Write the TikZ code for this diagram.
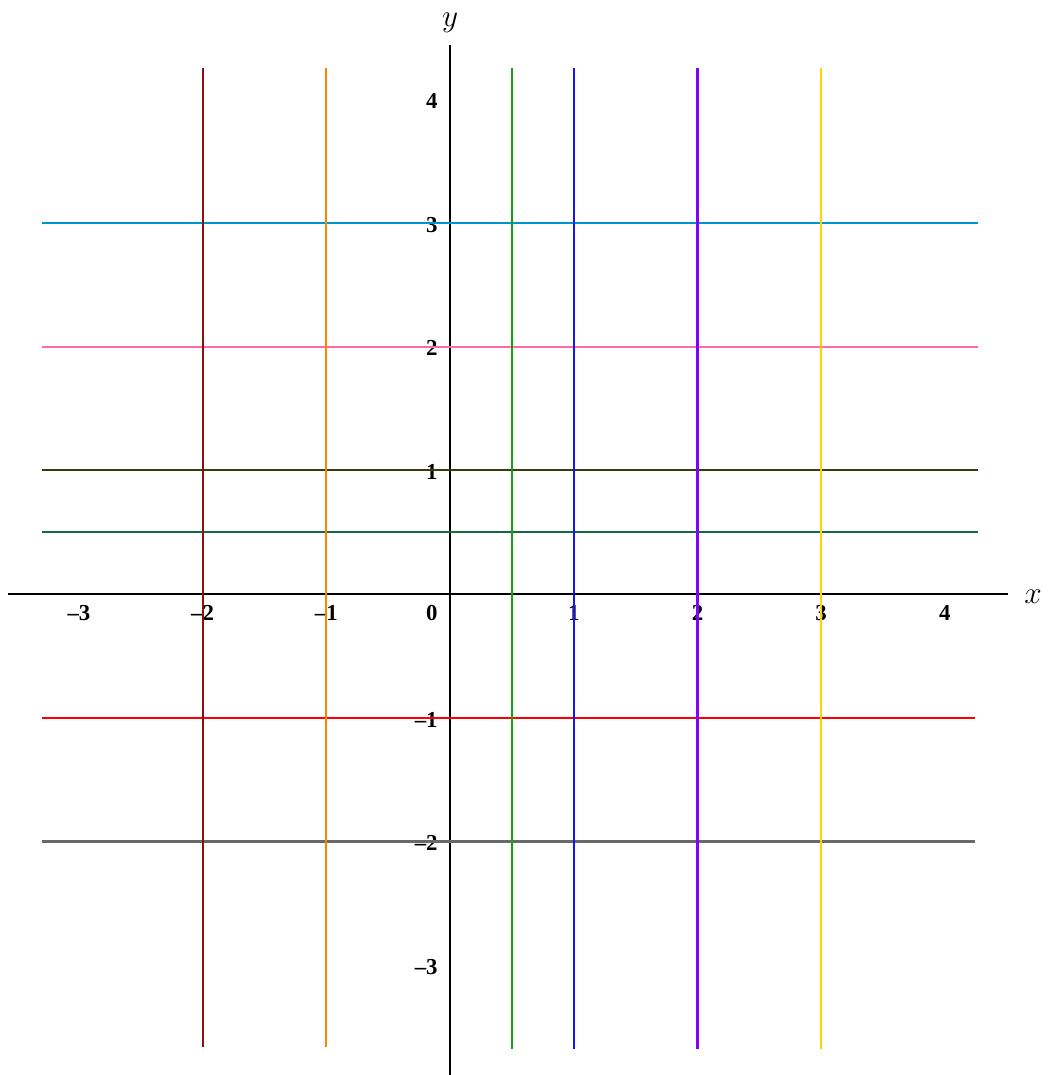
\documentclass[tikz,border=0pt]{standalone}
\usepackage{fontspec}
\setmainfont{Liberation Serif}
\definecolor{lineMaroon}{RGB}{140,16,16}
\definecolor{lineOrange}{RGB}{255,130,0}
\definecolor{lineGreen}{RGB}{20,160,20}
\definecolor{lineBlue}{RGB}{20,20,255}
\definecolor{lineViolet}{RGB}{130,0,255}
\definecolor{lineGold}{RGB}{255,210,0}
\definecolor{lineCyan}{RGB}{0,150,205}
\definecolor{linePink}{RGB}{255,105,170}
\definecolor{lineOlive}{RGB}{60,60,10}
\definecolor{lineTeal}{RGB}{20,105,65}
\definecolor{lineRed}{RGB}{255,0,0}
\definecolor{lineGray}{RGB}{105,105,105}
\tikzset{
  axisline/.style={black, line width=1.2pt},
  gridline/.style={line width=1.0pt},
  ticklbl/.style={font=\fontsize{10.5}{12}\selectfont\bfseries, inner sep=0pt}
}
\begin{document}
\begin{tikzpicture}[x=2cm,y=2cm]
  \useasboundingbox (-3.638,-3.888) rectangle (4.834,4.802);

  % Axes
  \draw[axisline] (-3.57,0) -- (4.51,0);
  \draw[axisline] (0,-3.888) -- (0,4.438);
  \node[anchor=base, inner sep=0pt] (xname) at (4.713,-0.073) {\Large $x$};
  \node[anchor=base, inner sep=0pt] (yname) at (0,4.584) {\Large $y$};

  % Tick labels on the x axis
  \foreach \t/\lbl [count=\i] in {-3/\textendash3,-2/\textendash2,-1/\textendash1,1/1,2/2,3/3,4/4} {
    \node[ticklbl, anchor=base] (xtick\i) at (\t,-0.21) {\lbl};
  }
  % Origin label
  \node[ticklbl, anchor=base east] (orig) at (-0.097,-0.21) {0};
  % Tick labels on the y axis
  \foreach \t/\lbl [count=\i] in {-3/\textendash3,-2/\textendash2,-1/\textendash1,1/1,2/2,3/3,4/4} {
    \node[ticklbl, anchor=base east] (ytick\i) at (-0.097,\t-0.075) {\lbl};
  }

  % Horizontal lines y = const
  \foreach \yv/\col/\rt in {3/lineCyan/4.27, 2/linePink/4.27, 1/lineOlive/4.27,
                            0.5/lineTeal/4.27, -1/lineRed/4.245, -2/lineGray/4.245} {
    \draw[gridline, \col] (-3.3,\yv) -- (\rt,\yv);
  }

  % Vertical lines x = const
  \foreach \xv/\col/\bot in {-2/lineMaroon/-3.66, -1/lineOrange/-3.66, 0.5/lineGreen/-3.68,
                             1/lineBlue/-3.68, 2/lineViolet/-3.68, 3/lineGold/-3.68} {
    \draw[gridline, \col] (\xv,\bot) -- (\xv,4.25);
  }
\end{tikzpicture}
\end{document}
